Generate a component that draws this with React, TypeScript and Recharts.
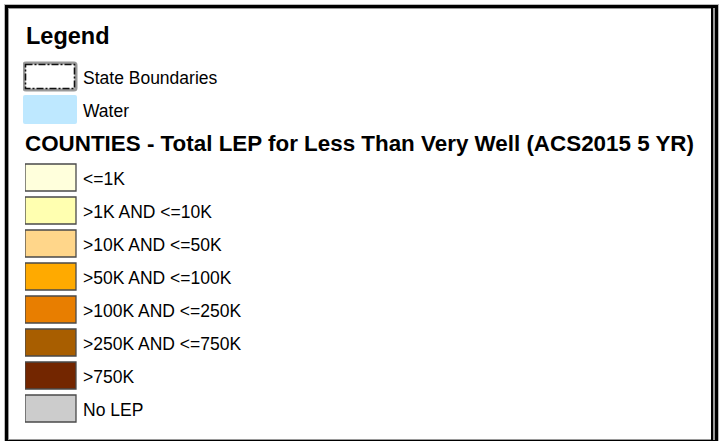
import { Bar, BarChart, Cell, LabelList, Rectangle, XAxis, YAxis } from "recharts";

// map layers shown at the top of the legend
const layerNames = ["State Boundaries", "Water"];
const layerFills = ["#ffffff", "#bee8ff"];

// county classes
const classNames = [
    "<=1K",
    ">1K AND <=10K",
    ">10K AND <=50K",
    ">50K AND <=100K",
    ">100K AND <=250K",
    ">250K AND <=750K",
    ">750K",
    "No LEP",
];
const classFills = ["#ffffdc", "#ffffb0", "#ffd68a", "#ffaa00", "#e87e00", "#a85e00", "#732600", "#cccccc"];

const legendTitle = "Legend";
const classTitle = "COUNTIES - Total LEP for Less Than Very Well (ACS2015 5 YR)";

const FONT = "'Liberation Sans', Arial, sans-serif";

const layerRows = layerNames.map((name, i) => ({ name, fill: layerFills[i], swatch: 1 }));
const classRows = classNames.map((name, i) => ({ name, fill: classFills[i], swatch: 1 }));

const labelStyle = { fontSize: 17.5, fontFamily: FONT, fill: "#000" };

function LayerSwatch(props: any) {
    const { x, y, width, height, payload } = props;
    if (payload.name === "State Boundaries") {
        return (
            <g>
                <rect x={x + 1} y={y + 1} width={width - 2} height={height - 2} fill="#fff" stroke="#9a9a9a" strokeWidth={3} rx={2} />
                <rect x={x + 2.5} y={y + 2.5} width={width - 5} height={height - 5} fill="none" stroke="#111" strokeWidth={1.6} strokeDasharray="7 2 2 2" />
            </g>
        );
    }
    return <Rectangle {...props} fill={payload.fill} radius={2} />;
}

export default function App() {
    return (
        <div style={{ position: "absolute", left: 0, top: 0, width: 721, height: 441, background: "#fff", fontFamily: FONT }}>
            {/* frame */}
            <div style={{ position: "absolute", left: 5, top: 5, width: 707, height: 432, border: "3px solid #000", boxShadow: "inset 0 0 0 1px #9a9a9a, 0 0 0 1px #bbb" }} />
            <div style={{ position: "absolute", left: 711, top: 8, width: 2, height: 432, background: "#000" }} />
            <div style={{ position: "absolute", left: 713, top: 8, width: 2, height: 432, background: "#9a9a9a" }} />

            <div style={{ position: "absolute", left: 26, top: 22, fontSize: 23.5, fontWeight: "bold", lineHeight: "28px" }}>
                {legendTitle}
            </div>

            <div style={{ position: "absolute", left: 23, top: 60 }}>
                <BarChart
                    width={400}
                    height={66}
                    data={layerRows}
                    layout="vertical"
                    margin={{ top: 0, right: 346, left: 0, bottom: 0 }}
                >
                    <XAxis type="number" domain={[0, 1]} hide />
                    <YAxis type="category" dataKey="name" hide />
                    <Bar dataKey="swatch" barSize={29} isAnimationActive={false} shape={(p: any) => <LayerSwatch {...p} />}>
                        <LabelList dataKey="name" position="right" offset={6} style={labelStyle} dy={1} />
                    </Bar>
                </BarChart>
            </div>

            <div style={{ position: "absolute", left: 25, top: 131, fontSize: 22.4, fontWeight: "bold", lineHeight: "26px", whiteSpace: "nowrap" }}>
                {classTitle}
            </div>

            <div style={{ position: "absolute", left: 25, top: 161 }}>
                <BarChart
                    width={400}
                    height={264}
                    data={classRows}
                    layout="vertical"
                    margin={{ top: 0, right: 349, left: 0, bottom: 0 }}
                >
                    <XAxis type="number" domain={[0, 1]} hide />
                    <YAxis type="category" dataKey="name" hide />
                    <Bar dataKey="swatch" barSize={27} stroke="#4a4a4a" strokeWidth={1.3} isAnimationActive={false}>
                        {classRows.map((row) => (
                            <Cell key={row.name} fill={row.fill} />
                        ))}
                        <LabelList dataKey="name" position="right" offset={7} style={labelStyle} dy={1.5} />
                    </Bar>
                </BarChart>
            </div>
        </div>
    );
}
